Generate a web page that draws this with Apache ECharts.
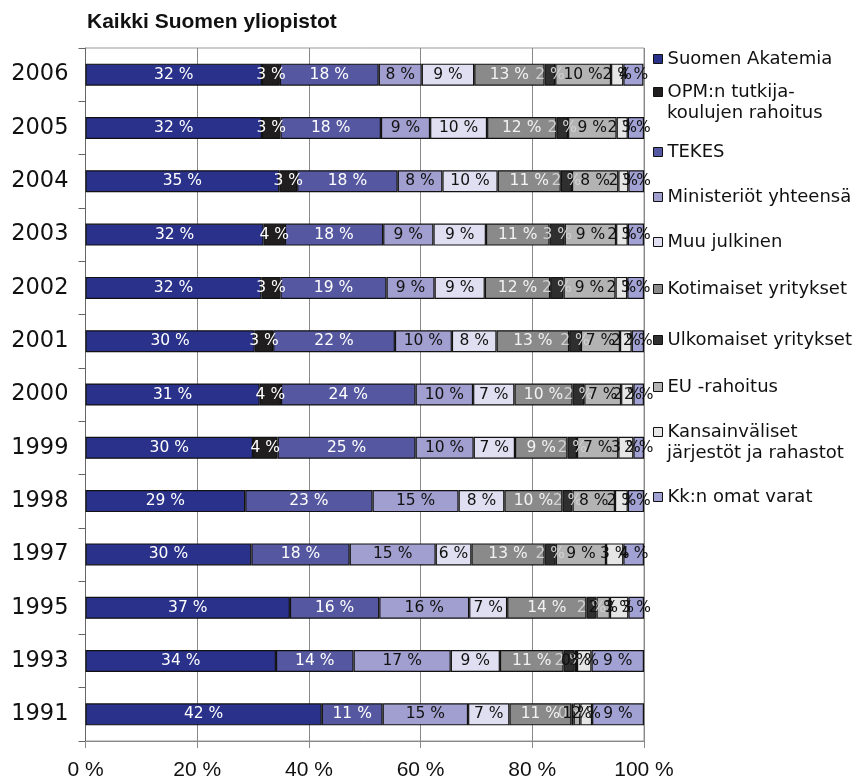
<!DOCTYPE html>
<html>
<head>
<meta charset="utf-8">
<script src="https://cdn.jsdelivr.net/npm/echarts@6/dist/echarts.min.js"></script>
<style>
html,body{margin:0;padding:0;background:#fff;}
#c{width:868px;height:779px;}
</style>
</head>
<body>
<div id="c"></div>
<script>
const years = ['2006','2005','2004','2003','2002','2001','2000','1999','1998','1997','1995','1993','1991'];
const seriesNames = ['Suomen Akatemia','OPM:n tutkija-\nkoulujen rahoitus','TEKES','Ministeriöt yhteensä','Muu julkinen','Kotimaiset yritykset','Ulkomaiset yritykset','EU -rahoitus','Kansainväliset\njärjestöt ja rahastot','Kk:n omat varat'];
const suomenAkatemia = [31.6, 31.6, 34.7, 31.9, 31.5, 30.3, 31.2, 30.0, 28.6, 29.7, 36.6, 34.1, 42.3];
const opm            = [3.2, 3.3, 3.2, 3.8, 3.4, 3.3, 3.8, 4.4, null, null, null, null, null];
const tekes          = [17.7, 18.0, 18.0, 17.6, 19.0, 21.8, 24.1, 24.7, 22.8, 17.6, 16.0, 13.9, 10.9];
const ministeriot    = [7.7, 8.8, 8.0, 9.0, 8.6, 10.2, 10.3, 10.4, 15.4, 15.4, 16.1, 17.4, 15.3];
const muuJulkinen    = [9.4, 10.2, 9.9, 9.4, 9.0, 8.0, 7.4, 7.4, 8.2, 6.4, 6.8, 8.8, 7.4];
const kotimaiset     = [12.6, 12.4, 11.3, 11.4, 11.7, 13.0, 10.4, 9.4, 10.4, 13.1, 14.2, 11.4, 11.1];
const ulkomaiset     = [1.9, 2.1, 2.0, 2.7, 2.4, 2.1, 2.1, 1.7, 1.8, 2.0, 1.8, 2.0, 0.4];
const euRahoitus     = [10.0, 8.7, 8.3, 9.2, 9.3, 7.0, 6.6, 7.4, 7.6, 9.0, 2.4, 0.4, 1.2];
const kansainvaliset = [2.2, 2.0, 1.8, 2.1, 2.1, 2.1, 2.2, 2.7, 2.3, 3.1, 3.3, 2.6, 2.1];
const omatVarat      = [3.6, 2.9, 2.8, 2.9, 3.0, 2.2, 1.9, 1.9, 2.9, 3.7, 2.8, 9.4, 9.3];
const xTicks = [0, 20, 40, 60, 80, 100];

const seriesData = [suomenAkatemia, opm, tekes, ministeriot, muuJulkinen, kotimaiset, ulkomaiset, euRahoitus, kansainvaliset, omatVarat];
const colors = ['#29318a','#211e1f','#5558a0','#a09fcf','#e0dff1','#8a8a8a','#2f2f2f','#b3b3b3','#e6e6e6','#a1a1d3'];
const labelColors = ['#ffffff','#ffffff','#ffffff','#111111','#111111','#f2f2f2','#d0d0d0','#111111','#111111','#111111'];
const legendCenters = [59, 92, 152, 197, 242, 289, 340, 387, 432, 497];
const secondLineGap = 21;

const FONT = '"Liberation Sans", Arial, Helvetica, sans-serif';
const WIDE = '"DejaVu Sans", Verdana, sans-serif';

const series = seriesNames.map((name, i) => ({
  name: name,
  type: 'bar',
  stack: 'total',
  barWidth: 22,
  data: seriesData[i],
  itemStyle: { color: colors[i], borderColor: '#111', borderWidth: 1.2 },
  label: {
    show: true,
    position: 'inside',
    color: labelColors[i],
    fontFamily: WIDE,
    fontSize: 15.5,
    formatter: p => (p.value == null ? '' : Math.round(p.value) + ' %')
  },
  emphasis: { disabled: true }
}));

const LEGEND_LEFT = 653;
const legends = seriesNames.map((name, i) => ({
  data: [name],
  orient: 'vertical',
  left: LEGEND_LEFT,
  top: legendCenters[i] - 10.5,
  padding: 0,
  icon: 'rect',
  itemWidth: 9,
  itemHeight: 9,
  itemStyle: { borderColor: '#111', borderWidth: 1 },
  selectedMode: false,
  formatter: n => n.split('\n')[0],
  textStyle: { fontFamily: WIDE, fontSize: 18, color: '#111', lineHeight: 21 }
}));

const secondLines = [];
seriesNames.forEach((name, i) => {
  const parts = name.split('\n');
  if (parts.length > 1) {
    secondLines.push({
      type: 'text',
      left: LEGEND_LEFT + 14,
      top: legendCenters[i] + secondLineGap - 10.5,
      style: { text: parts[1], font: '18px ' + WIDE, fill: '#111', lineHeight: 21 },
      silent: true
    });
  }
});

const chart = echarts.init(document.getElementById('c'), null, { renderer: 'canvas' });
chart.setOption({
  animation: false,
  backgroundColor: '#fff',
  title: {
    text: 'Kaikki Suomen yliopistot',
    left: 82,
    top: 7,
    textStyle: { fontFamily: FONT, fontSize: 21, fontWeight: 'bold', color: '#111' }
  },
  legend: legends,
  graphic: secondLines,
  grid: { left: 85.5, right: 224, top: 48, bottom: 38, outerBoundsMode: 'none', containLabel: false, show: true, borderColor: '#999', borderWidth: 1 },
  xAxis: {
    type: 'value',
    min: 0,
    max: 100,
    interval: 20,
    axisLine: { show: true, lineStyle: { color: '#888' } },
    axisTick: { show: true, length: 7, lineStyle: { color: '#888' } },
    splitLine: { show: true, lineStyle: { color: '#888', width: 1 } },
    axisLabel: {
      margin: 19,
      fontFamily: FONT,
      fontSize: 21,
      lineHeight: 21,
      color: '#111',
      formatter: v => xTicks.indexOf(v) >= 0 ? v + ' %' : ''
    }
  },
  yAxis: {
    type: 'category',
    data: years,
    inverse: true,
    axisLine: { show: true, lineStyle: { color: '#666' } },
    axisTick: { show: true, length: 7, lineStyle: { color: '#666' } },
    axisLabel: { margin: 17, fontFamily: WIDE, fontSize: 22.5, color: '#111' }
  },
  series: series
});
</script>
</body>
</html>
